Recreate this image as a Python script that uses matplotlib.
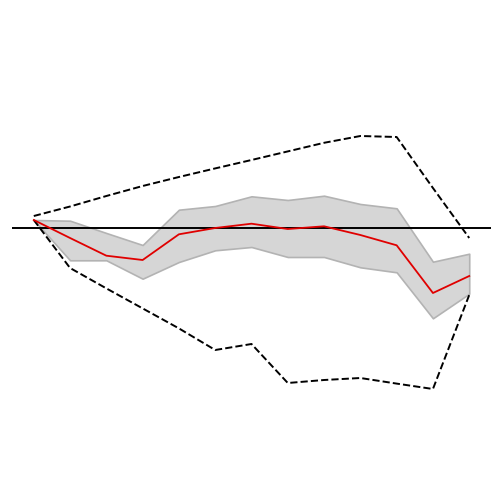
import numpy as np
import matplotlib
matplotlib.use("Agg")
import matplotlib.pyplot as plt

# periods 0..12
x = np.arange(13)

median = [0.4, -0.5, -1.385, -1.6, -0.315, 0.0, 0.215, -0.05, 0.085, -0.35, -0.865, -3.25, -2.4]
band_hi = [0.4, 0.365, -0.25, -0.85, 0.915, 1.1, 1.585, 1.4, 1.615, 1.2, 0.985, -1.685, -1.285]
band_lo = [0.4, -1.615, -1.615, -2.535, -1.7, -1.115, -0.95, -1.45, -1.45, -1.965, -2.215, -4.515, -3.285]
bound_hi = [0.6, 1.075, 1.6, 2.1, 2.55, 2.98, 3.4, 3.83, 4.26, 4.6, 4.55, 2.0, -0.5]
bound_lo = [0.4, -2.0, -3.02, -4.02, -5.02, -6.1, -5.8, -7.75, -7.6, -7.5, -7.78, -8.05, -3.35]

fig = plt.figure(figsize=(5, 5), dpi=100)
ax = fig.add_axes([0.024, 0.0, 0.958, 1.0])

ax.fill_between(x, band_lo, band_hi, facecolor="#d6d6d6", edgecolor="#b3b3b3", linewidth=1.2)
ax.plot(x, bound_hi, color="black", linestyle="--", linewidth=1.4)
ax.plot(x, bound_lo, color="black", linestyle="--", linewidth=1.4)
ax.axhline(0, color="black", linewidth=1.4)
ax.plot(x, median, color="#e00000", linewidth=1.3)

ax.margins(x=0.05)
ax.set_ylim(-13.6, 11.4)
ax.axis("off")

fig.savefig("out.png", dpi=100)
